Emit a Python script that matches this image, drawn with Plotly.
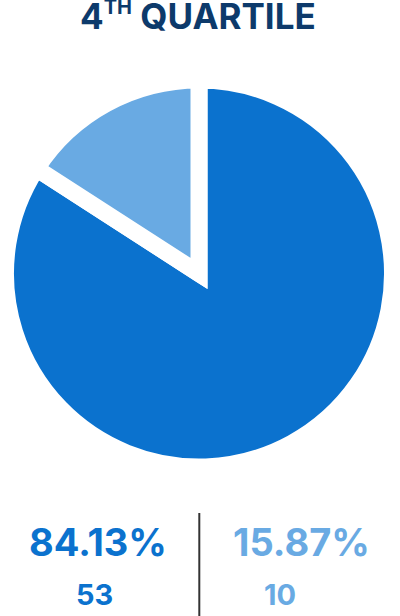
import plotly.graph_objects as go

# data
labels = ["Group A", "Group B"]
counts = [53, 10]
colors = ["#0B72CE", "#69AAE3"]
title_main = "4"
title_sup = "TH"
title_rest = " QUARTILE"

total = sum(counts)
pcts = [c / total * 100 for c in counts]

W, H = 400, 616
FONT = "Inter"

fig = go.Figure(
    go.Pie(
        labels=labels,
        values=counts,
        sort=False,
        direction="clockwise",
        rotation=0,
        textinfo="none",
        hoverinfo="label+value+percent",
        marker=dict(colors=colors, line=dict(color="white", width=17)),
        domain=dict(x=[5.5 / W, 392.5 / W], y=[1 - 467 / H, 1 - 80 / H]),
        showlegend=False,
    )
)

annotations = [
    dict(
        text="<b>" + title_main + "<sup><span style='font-size:20px'>" + title_sup
             + "</span></sup>" + title_rest + "</b>",
        x=198 / W, y=1 - 16 / H, xanchor="center", yanchor="middle",
        font=dict(family=FONT, size=35, color="#0D3A6B"),
        showarrow=False,
    )
]

# percentage + count under the pie, one column per slice
col_pct_x = [98, 301]
col_cnt_x = [94, 280]
for i in range(len(counts)):
    annotations.append(dict(
        text="<b>%.2f%%</b>" % pcts[i],
        x=col_pct_x[i] / W, y=1 - 542 / H, xanchor="center", yanchor="middle",
        font=dict(family=FONT, size=38, color=colors[i]), showarrow=False,
    ))
    annotations.append(dict(
        text="<b>%d</b>" % counts[i],
        x=col_cnt_x[i] / W, y=1 - 594 / H, xanchor="center", yanchor="middle",
        font=dict(family=FONT, size=29, color=colors[i]), showarrow=False,
    ))

fig.update_layout(
    width=W, height=H,
    margin=dict(l=0, r=0, t=0, b=0),
    paper_bgcolor="white",
    plot_bgcolor="white",
    annotations=annotations,
    shapes=[dict(
        type="line", xref="paper", yref="paper",
        x0=199.3 / W, x1=199.3 / W, y0=0, y1=(H - 513) / H,
        line=dict(color="#333333", width=2),
    )],
)

# no page margin, sharp corners on the white slice gaps
js = (
    "document.body.style.margin='0';"
    "document.querySelectorAll('path.surface').forEach(function(p){"
    "p.style.strokeLinejoin='miter';});"
)
fig.write_html("out.html", config={"displayModeBar": False}, post_script=js)
